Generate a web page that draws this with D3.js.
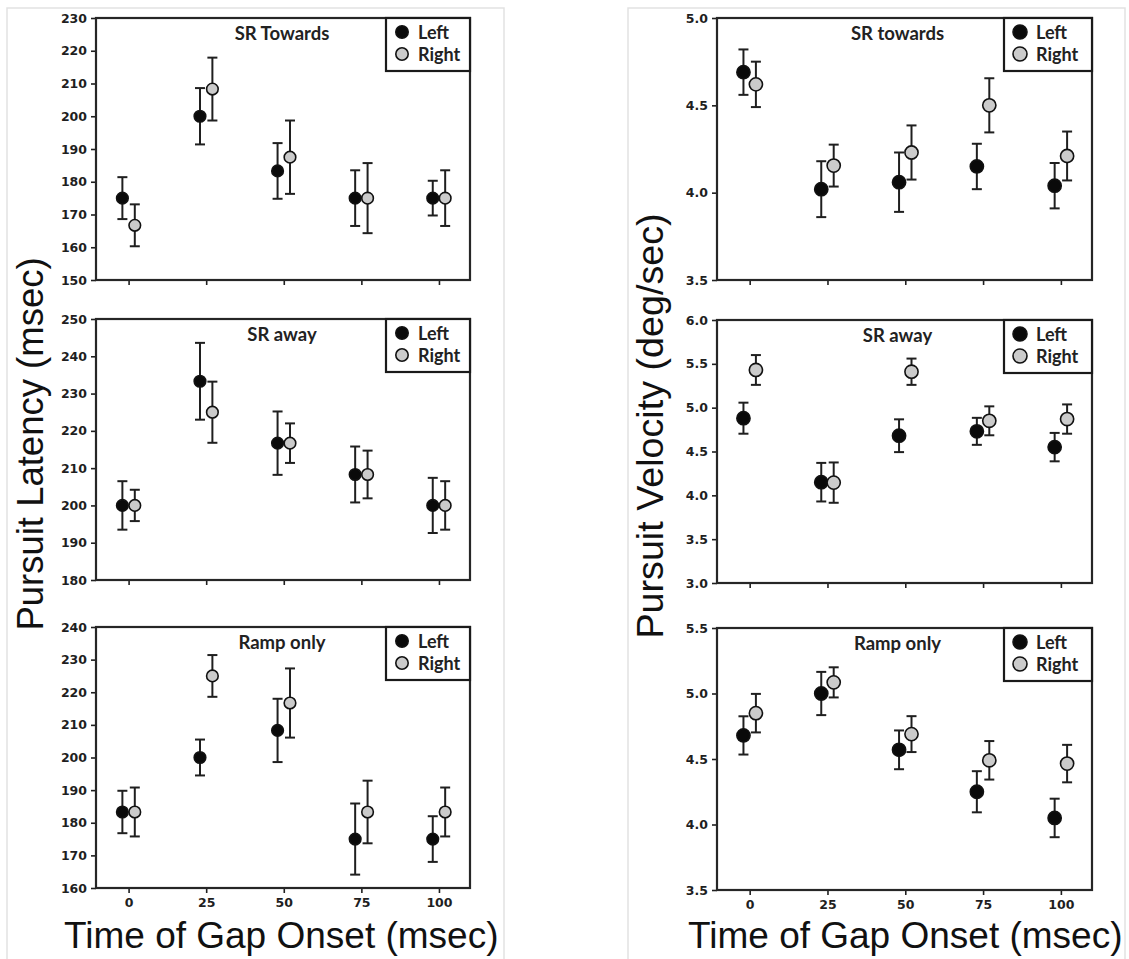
<!DOCTYPE html>
<html>
<head>
<meta charset="utf-8">
<script src="https://cdn.jsdelivr.net/npm/d3@7"></script>
<style>
  body { margin: 0; background: #fff; }
  svg { display: block; }
</style>
</head>
<body>
<svg id="chart" width="1129" height="959"></svg>
<script>
// ---- data ----------------------------------------------------------------
const gapOnsets = [0, 25, 50, 75, 100];
const xTickLabels = ["0", "25", "50", "75", "100"];
const seriesNames = ["Left", "Right"];

// Pursuit latency (msec): mean and standard error per gap onset
const latTowardsLeft    = [175.0, 200.0, 183.3, 175.0, 175.0];
const latTowardsLeftSE  = [6.4, 8.6, 8.5, 8.5, 5.3];
const latTowardsRight   = [166.7, 208.3, 187.5, 175.0, 175.0];
const latTowardsRightSE = [6.4, 9.6, 11.2, 10.7, 8.5];

const latAwayLeft    = [200.0, 233.3, 216.7, 208.3, 200.0];
const latAwayLeftSE  = [6.5, 10.3, 8.5, 7.5, 7.4];
const latAwayRight   = [200.0, 225.0, 216.7, 208.3, 200.0];
const latAwayRightSE = [4.2, 8.2, 5.3, 6.4, 6.5];

const latRampLeft    = [183.3, 200.0, 208.3, 175.0, 175.0];
const latRampLeftSE  = [6.5, 5.5, 9.7, 10.9, 7.0];
const latRampRight   = [183.3, 225.0, 216.7, 183.3, 183.3];
const latRampRightSE = [7.5, 6.4, 10.6, 9.6, 7.5];

// Pursuit velocity (deg/sec): mean and standard error per gap onset
const velTowardsLeft    = [4.69, 4.02, 4.06, 4.15, 4.04];
const velTowardsLeftSE  = [0.13, 0.16, 0.17, 0.13, 0.13];
const velTowardsRight   = [4.62, 4.155, 4.23, 4.50, 4.21];
const velTowardsRightSE = [0.13, 0.12, 0.155, 0.155, 0.14];

const velAwayLeft    = [4.88, 4.15, 4.68, 4.73, 4.55];
const velAwayLeftSE  = [0.177, 0.22, 0.187, 0.154, 0.162];
const velAwayRight   = [5.43, 4.145, 5.41, 4.85, 4.87];
const velAwayRightSE = [0.17, 0.23, 0.15, 0.165, 0.167];

const velRampLeft    = [4.68, 5.00, 4.57, 4.25, 4.05];
const velRampLeftSE  = [0.146, 0.165, 0.148, 0.157, 0.147];
const velRampRight   = [4.85, 5.085, 4.69, 4.49, 4.465];
const velRampRightSE = [0.147, 0.115, 0.137, 0.147, 0.143];

// axis ticks
const latTowardsTicks = [150, 160, 170, 180, 190, 200, 210, 220, 230];
const latAwayTicks    = [180, 190, 200, 210, 220, 230, 240, 250];
const latRampTicks    = [160, 170, 180, 190, 200, 210, 220, 230, 240];
const velTowardsTicks = [3.5, 4.0, 4.5, 5.0];
const velAwayTicks    = [3.0, 3.5, 4.0, 4.5, 5.0, 5.5, 6.0];
const velRampTicks    = [3.5, 4.0, 4.5, 5.0, 5.5];

const panelTitles = {
  latency: ["SR Towards", "SR away", "Ramp only"],
  velocity: ["SR towards", "SR away", "Ramp only"]
};

// ---- layout ----------------------------------------------------------------
const xDomain = [-10.5, 110];
const seriesOffset = 2;          // horizontal jitter of Left / Right markers, in msec

const columns = [
  { frame: [7, 8, 497], x0: 96, x1: 470, r: 5.8, legW: 84, legCirc: 68, legText: 52,
    titleShift: -1, fmt: d3.format("d"),
    rows: [[18, 280], [319, 580], [627, 888]],
    yLabel: "Pursuit Latency (msec)", yLabelX: 43, yLabelY: 444, yLabelSize: 36.5,
    xLabelX: 64 },
  { frame: [628, 8, 497], x0: 717, x1: 1092, r: 6.6, legW: 88, legCirc: 72, legText: 56,
    titleShift: -7, fmt: d3.format(".1f"),
    rows: [[18, 280], [320, 583], [628, 890]],
    yLabel: "Pursuit Velocity (deg/sec)", yLabelX: 663, yLabelY: 426, yLabelSize: 37.7,
    xLabelX: 688 }
];

const panels = [
  { col: 0, row: 0, title: panelTitles.latency[0], domain: [150, 230], ticks: latTowardsTicks,
    series: [[latTowardsLeft, latTowardsLeftSE], [latTowardsRight, latTowardsRightSE]] },
  { col: 0, row: 1, title: panelTitles.latency[1], domain: [180, 250], ticks: latAwayTicks,
    series: [[latAwayLeft, latAwayLeftSE], [latAwayRight, latAwayRightSE]] },
  { col: 0, row: 2, title: panelTitles.latency[2], domain: [160, 240], ticks: latRampTicks,
    series: [[latRampLeft, latRampLeftSE], [latRampRight, latRampRightSE]] },
  { col: 1, row: 0, title: panelTitles.velocity[0], domain: [3.5, 5.0], ticks: velTowardsTicks,
    series: [[velTowardsLeft, velTowardsLeftSE], [velTowardsRight, velTowardsRightSE]] },
  { col: 1, row: 1, title: panelTitles.velocity[1], domain: [3.0, 6.0], ticks: velAwayTicks,
    series: [[velAwayLeft, velAwayLeftSE], [velAwayRight, velAwayRightSE]] },
  { col: 1, row: 2, title: panelTitles.velocity[2], domain: [3.5, 5.5], ticks: velRampTicks,
    series: [[velRampLeft, velRampLeftSE], [velRampRight, velRampRightSE]] }
];

const markerFill = ["#0a0a0a", "#cbcbcb"];
const ink = "#1f1f1f";
const tickFont = "'DejaVu Sans', sans-serif";
const innerFont = "Lato, 'Open Sans', sans-serif";
const labelFont = "'Liberation Sans', Arial, sans-serif";

const svg = d3.select("#chart");

// light outer frame round each column
columns.forEach(c => {
  svg.append("rect")
    .attr("x", c.frame[0]).attr("y", c.frame[1])
    .attr("width", c.frame[2]).attr("height", 980)
    .attr("fill", "none").attr("stroke", "#e2e2e2").attr("stroke-width", 1.5);
});

function drawPanel(p) {
  const c = columns[p.col];
  const [y0, y1] = c.rows[p.row];
  const x = d3.scaleLinear().domain(xDomain).range([c.x0, c.x1]);
  const y = d3.scaleLinear().domain(p.domain).range([y1, y0]);
  const g = svg.append("g");
  const isBottom = p.row === 2;

  // y axis
  g.append("g")
    .attr("transform", `translate(${c.x0},0)`)
    .call(d3.axisLeft(y).tickValues(p.ticks).tickSize(5).tickPadding(4).tickFormat(c.fmt))
    .call(a => a.select(".domain").remove())
    .call(a => a.selectAll("line").attr("stroke", ink).attr("stroke-width", 1.6))
    .call(a => a.selectAll("text")
      .attr("fill", ink).style("font-family", tickFont)
      .style("font-weight", "bold").style("font-size", "12.5px"));

  // x axis (labels only on the bottom row)
  g.append("g")
    .attr("transform", `translate(0,${y1})`)
    .call(d3.axisBottom(x).tickValues(gapOnsets).tickSize(5).tickPadding(5)
      .tickFormat((d, i) => isBottom ? xTickLabels[i] : ""))
    .call(a => a.select(".domain").remove())
    .call(a => a.selectAll("line").attr("stroke", ink).attr("stroke-width", 1.6))
    .call(a => a.selectAll("text")
      .attr("fill", ink).style("font-family", tickFont)
      .style("font-weight", "bold").style("font-size", "12.5px"));

  // plot frame
  g.append("rect")
    .attr("x", c.x0).attr("y", y0)
    .attr("width", c.x1 - c.x0).attr("height", y1 - y0)
    .attr("fill", "none").attr("stroke", "#262626").attr("stroke-width", 2.2);

  // panel title
  g.append("text")
    .attr("x", (c.x0 + c.x1) / 2 + c.titleShift).attr("y", y0 + 15)
    .attr("text-anchor", "middle").attr("dominant-baseline", "central")
    .style("font-family", innerFont).style("font-weight", "bold").style("font-size", "18.5px")
    .attr("fill", "#222").text(p.title);

  // error bars and markers, one series at a time
  p.series.forEach(([means, errs], s) => {
    const off = s === 0 ? -seriesOffset : seriesOffset;
    const pts = gapOnsets.map((t, i) => ({ t: t + off, m: means[i], e: errs[i] }));
    const bars = g.append("g").attr("stroke", ink).attr("stroke-width", 2).attr("fill", "none");
    pts.forEach(d => {
      const cx = x(d.t), top = y(d.m + d.e), bot = y(d.m - d.e);
      bars.append("line").attr("x1", cx).attr("x2", cx).attr("y1", top).attr("y2", bot);
      bars.append("line").attr("x1", cx - 5).attr("x2", cx + 5).attr("y1", top).attr("y2", top);
      bars.append("line").attr("x1", cx - 5).attr("x2", cx + 5).attr("y1", bot).attr("y2", bot);
    });
    g.append("g").selectAll("circle").data(pts).join("circle")
      .attr("cx", d => x(d.t)).attr("cy", d => y(d.m)).attr("r", c.r)
      .attr("fill", markerFill[s]).attr("stroke", "#111").attr("stroke-width", 1.6);
  });

  // legend
  const lg = g.append("g");
  lg.append("rect")
    .attr("x", c.x1 - c.legW).attr("y", y0)
    .attr("width", c.legW).attr("height", 53)
    .attr("fill", "#fff").attr("stroke", "#1a1a1a").attr("stroke-width", 2.2);
  seriesNames.forEach((name, s) => {
    const ly = y0 + 14 + s * 22;
    lg.append("circle").attr("cx", c.x1 - c.legCirc).attr("cy", ly).attr("r", c.r + 0.4)
      .attr("fill", markerFill[s]).attr("stroke", "#111").attr("stroke-width", 1.6);
    lg.append("text").attr("x", c.x1 - c.legText).attr("y", ly)
      .attr("dominant-baseline", "central")
      .style("font-family", innerFont).style("font-weight", "bold").style("font-size", "18px")
      .attr("fill", "#222").text(name);
  });
}

panels.forEach(drawPanel);

// axis titles
columns.forEach(c => {
  svg.append("text")
    .attr("transform", `translate(${c.yLabelX},${c.yLabelY}) rotate(-90)`)
    .attr("text-anchor", "middle")
    .style("font-family", labelFont).style("font-size", c.yLabelSize + "px")
    .attr("fill", "#111").text(c.yLabel);
  svg.append("text")
    .attr("x", c.xLabelX).attr("y", 948)
    .style("font-family", labelFont).style("font-size", "37px")
    .attr("fill", "#111").text("Time of Gap Onset (msec)");
});
</script>
</body>
</html>
